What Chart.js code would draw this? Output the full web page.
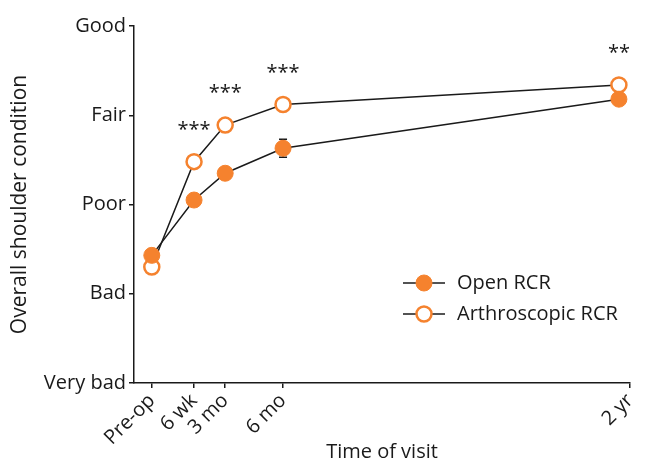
<!DOCTYPE html>
<html>
<head>
<meta charset="utf-8">
<script src="https://cdn.jsdelivr.net/npm/chart.js@4.4.1/dist/chart.umd.min.js"></script>
<style>
  html, body { margin: 0; padding: 0; background: #fff; }
  #wrap { position: relative; width: 648px; height: 460px; }
</style>
</head>
<body>
<div id="wrap"><canvas id="myChart"></canvas></div>
<script>
// time of visit, in weeks after surgery
const visitLabels = ['Pre-op', '6 wk', '3 mo', '6 mo', '2 yr'];
const tickWeeks = [-3.5, 6, 13, 26, 104];
const visitWeeks = [-3.5, 6, 13, 26, 101.5];

// 1 = very bad ... 5 = good
const conditionLabels = ['Very bad', 'Bad', 'Poor', 'Fair', 'Good'];
const openRCR = [2.43, 3.05, 3.35, 3.63, 4.18];
const openErr = [0.06, 0.06, 0.06, 0.1, 0.06];
const arthroRCR = [2.30, 3.48, 3.89, 4.12, 4.34];
const arthroErr = [0.06, 0.06, 0.06, 0.06, 0.06];
const significance = ['', '***', '***', '***', '**'];

const ORANGE = '#f5822e';
const INK = '#1a1a1a';
const FONT = "'Open Sans', sans-serif";

function toPoints(ys) {
  return ys.map((y, i) => ({ x: visitWeeks[i], y }));
}

// error bars go under the markers
const errorBars = {
  id: 'errorBars',
  beforeDatasetsDraw(chart) {
    const { ctx, scales: { x, y } } = chart;
    const errs = [openErr, arthroErr];
    ctx.save();
    ctx.strokeStyle = INK;
    ctx.lineWidth = 1.5;
    chart.data.datasets.forEach((ds, d) => {
      ds.data.forEach((p, i) => {
        const px = x.getPixelForValue(p.x);
        const top = y.getPixelForValue(p.y + errs[d][i]);
        const bot = y.getPixelForValue(p.y - errs[d][i]);
        ctx.beginPath();
        ctx.moveTo(px, top); ctx.lineTo(px, bot);
        ctx.moveTo(px - 4, top); ctx.lineTo(px + 4, top);
        ctx.moveTo(px - 4, bot); ctx.lineTo(px + 4, bot);
        ctx.stroke();
      });
    });
    ctx.restore();
  },
};

// stars above each visit
const stars = {
  id: 'stars',
  afterDatasetsDraw(chart) {
    const { ctx, scales: { x, y } } = chart;
    ctx.save();
    ctx.fillStyle = INK;
    ctx.font = '20px ' + FONT;
    ctx.textAlign = 'center';
    ctx.textBaseline = 'alphabetic';
    significance.forEach((s, i) => {
      if (!s) return;
      const px = x.getPixelForValue(visitWeeks[i]);
      const py = y.getPixelForValue(Math.max(openRCR[i], arthroRCR[i])) - 26;
      ctx.fillText(s, px, py);
    });
    ctx.restore();
  },
};

// legend inside the plot, lower right
const insideLegend = {
  id: 'insideLegend',
  afterDraw(chart) {
    const { ctx, chartArea } = chart;
    const x0 = chartArea.left + 269;
    let y0 = chartArea.top + 257;
    ctx.save();
    chart.data.datasets.forEach((ds) => {
      ctx.strokeStyle = INK;
      ctx.lineWidth = 1.5;
      ctx.beginPath();
      ctx.moveTo(x0, y0); ctx.lineTo(x0 + 42, y0);
      ctx.stroke();
      ctx.fillStyle = ds.pointBackgroundColor;
      ctx.strokeStyle = ds.pointBorderColor;
      ctx.lineWidth = ds.pointBorderWidth;
      Chart.helpers.drawPoint(ctx, {
        pointStyle: 'circle',
        radius: ds.pointRadius,
        borderWidth: ds.pointBorderWidth,
        rotation: 0,
      }, x0 + 21, y0);
      ctx.fillStyle = INK;
      ctx.font = '20px ' + FONT;
      ctx.textAlign = 'left';
      ctx.textBaseline = 'middle';
      ctx.fillText(ds.label, x0 + 54, y0);
      y0 += 31;
    });
    ctx.restore();
  },
};

new Chart(document.getElementById('myChart'), {
  type: 'line',
  data: {
    datasets: [
      {
        label: 'Open RCR',
        data: toPoints(openRCR),
        borderColor: INK,
        borderWidth: 1.5,
        pointBackgroundColor: ORANGE,
        pointBorderColor: ORANGE,
        pointBorderWidth: 1,
        pointRadius: 8,
        pointHoverRadius: 8,
        tension: 0,
      },
      {
        label: 'Arthroscopic RCR',
        data: toPoints(arthroRCR),
        borderColor: INK,
        borderWidth: 1.5,
        pointBackgroundColor: '#ffffff',
        pointBorderColor: ORANGE,
        pointBorderWidth: 2.5,
        pointRadius: 7.5,
        pointHoverRadius: 7.5,
        tension: 0,
      },
    ],
  },
  options: {
    responsive: true,
    maintainAspectRatio: false,
    animation: false,
    events: [],
    layout: { padding: { top: 26, right: 15, left: 0, bottom: 0 } },
    plugins: {
      legend: { display: false },
      tooltip: { enabled: false },
    },
    scales: {
      x: {
        type: 'linear',
        min: -7.5,
        max: 104,
        afterFit: (scale) => { scale.height = 77; },
        afterBuildTicks: (scale) => { scale.ticks = tickWeeks.map((v) => ({ value: v })); },
        grid: { drawOnChartArea: false, drawTicks: true, tickLength: 5, color: INK, lineWidth: 1.5 },
        border: { display: true, color: INK, width: 1.5 },
        ticks: {
          autoSkip: false,
          minRotation: 45,
          maxRotation: 45,
          padding: 1,
          color: INK,
          font: { family: FONT, size: 20 },
          callback: (v) => visitLabels[tickWeeks.indexOf(v)],
        },
        title: {
          display: true,
          text: 'Time of visit',
          color: INK,
          font: { family: FONT, size: 20, lineHeight: 1 },
          padding: { top: 0, bottom: -2 },
        },
      },
      y: {
        min: 1,
        max: 5,
        afterFit: (scale) => { scale.width = 134; },
        grid: { drawOnChartArea: false, drawTicks: true, tickLength: 5, color: INK, lineWidth: 1.5 },
        border: { display: true, color: INK, width: 1.5 },
        ticks: {
          stepSize: 1,
          padding: 3,
          color: INK,
          font: { family: FONT, size: 20 },
          callback: (v) => conditionLabels[v - 1],
        },
        title: {
          display: true,
          text: 'Overall shoulder condition',
          color: INK,
          font: { family: FONT, size: 21, lineHeight: 1 },
          padding: { top: 10, bottom: 0 },
        },
      },
    },
  },
  plugins: [errorBars, stars, insideLegend],
});
</script>
</body>
</html>
